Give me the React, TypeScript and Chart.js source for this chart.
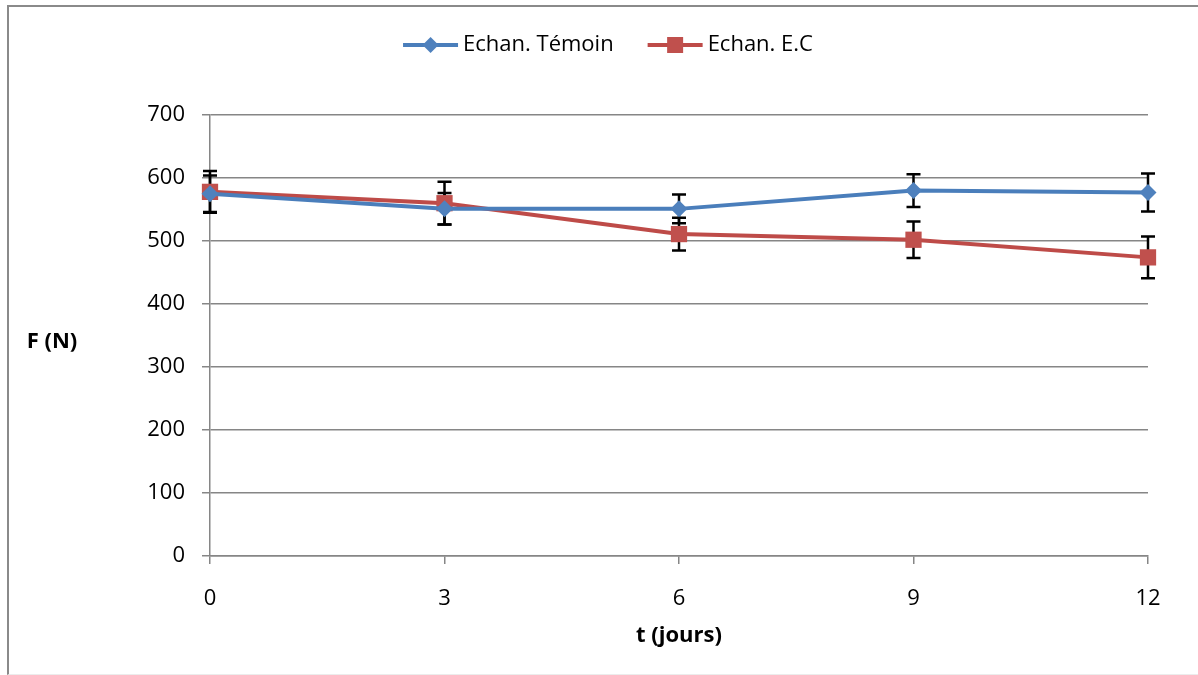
import React, { useEffect, useRef } from 'react';
import { Chart, registerables } from 'chart.js';

Chart.register(...registerables);

const days = [0, 3, 6, 9, 12];
const temoin = [575, 551, 551, 580, 577];
const temoinErr = [29, 25, 23, 26, 30];
const ec = [578, 560, 511, 502, 474];
const ecErr = [33, 34, 26, 29, 33];
const seriesLabels = ['Echan. Témoin', 'Echan. E.C'];
const xTitle = 't (jours)';
const yTitle = 'F (N)';

const FONT = "'Open Sans', 'Noto Sans', sans-serif";
const BLUE_LINE = '#4A7EBB';
const BLUE_MARK = '#4F81BD';
const RED_LINE = '#BE4B48';
const RED_MARK = '#C0504D';
const GRID = '#868686';

const errors = [temoinErr, ecErr];

const errorBarPlugin = {
  id: 'errorBars',
  beforeDatasetsDraw(chart: any) {
    const { ctx, scales } = chart;
    ctx.save();
    ctx.strokeStyle = '#000';
    ctx.lineWidth = 2.5;
    chart.data.datasets.forEach((ds: any, i: number) => {
      const meta = chart.getDatasetMeta(i);
      meta.data.forEach((pt: any, j: number) => {
        const v = ds.data[j].y;
        const e = errors[i][j];
        const x = pt.x;
        const yTop = scales.y.getPixelForValue(v + e);
        const yBot = scales.y.getPixelForValue(v - e);
        ctx.beginPath();
        ctx.moveTo(x, yTop);
        ctx.lineTo(x, yBot);
        ctx.moveTo(x - 7, yTop);
        ctx.lineTo(x + 7, yTop);
        ctx.moveTo(x - 7, yBot);
        ctx.lineTo(x + 7, yBot);
        ctx.stroke();
      });
    });
    ctx.restore();
  },
};

const extrasPlugin = {
  id: 'extras',
  afterDraw(chart: any) {
    const { ctx } = chart;
    ctx.save();
    // Y title (horizontal)
    ctx.font = `bold 22px ${FONT}`;
    ctx.fillStyle = '#000';
    ctx.textAlign = 'center';
    ctx.textBaseline = 'middle';
    ctx.fillText(yTitle, 52, 342);

    // Legend
    ctx.font = `22px ${FONT}`;
    const lineLen = 55;
    const gapText = 5;
    const gapItems = 34;
    const widths = seriesLabels.map((t) => ctx.measureText(t).width);
    const total = widths.reduce((a, w) => a + lineLen + gapText + w, 0) + gapItems;
    let x = 608 - total / 2;
    const y = 45;
    const colors = [BLUE_LINE, RED_LINE];
    const marks = [BLUE_MARK, RED_MARK];
    seriesLabels.forEach((t, i) => {
      ctx.strokeStyle = colors[i];
      ctx.lineWidth = 4;
      ctx.beginPath();
      ctx.moveTo(x, y);
      ctx.lineTo(x + lineLen, y);
      ctx.stroke();
      const cx = x + lineLen / 2;
      ctx.fillStyle = marks[i];
      ctx.beginPath();
      if (i === 0) {
        ctx.moveTo(cx, y - 8);
        ctx.lineTo(cx + 8, y);
        ctx.lineTo(cx, y + 8);
        ctx.lineTo(cx - 8, y);
        ctx.closePath();
      } else {
        ctx.rect(cx - 8, y - 8, 16, 16);
      }
      ctx.fill();
      ctx.fillStyle = '#000';
      ctx.textAlign = 'left';
      ctx.fillText(t, x + lineLen + gapText, y);
      x += lineLen + gapText + widths[i] + gapItems;
    });
    ctx.restore();
  },
};

export default function App() {
  const ref = useRef<HTMLCanvasElement | null>(null);

  useEffect(() => {
    if (!ref.current) return;
    const chart = new Chart(ref.current, {
      type: 'line',
      data: {
        datasets: [
          {
            label: seriesLabels[0],
            data: days.map((d, i) => ({ x: d, y: temoin[i] })),
            borderColor: BLUE_LINE,
            backgroundColor: BLUE_MARK,
            borderWidth: 4,
            pointStyle: 'rectRot',
            pointRadius: 8.5,
            pointBorderWidth: 0,
            pointBackgroundColor: BLUE_MARK,
            tension: 0,
            clip: false,
          },
          {
            label: seriesLabels[1],
            data: days.map((d, i) => ({ x: d, y: ec[i] })),
            borderColor: RED_LINE,
            backgroundColor: RED_MARK,
            borderWidth: 4,
            pointStyle: 'rect',
            pointRadius: 11.5,
            pointBorderWidth: 0,
            pointBackgroundColor: RED_MARK,
            tension: 0,
            clip: false,
          },
        ],
      },
      options: {
        responsive: false,
        animation: false,
        layout: { padding: { top: 115, right: 50, left: 0, bottom: 0 } },
        plugins: {
          legend: { display: false },
          tooltip: { enabled: false },
        },
        scales: {
          x: {
            type: 'linear',
            min: 0,
            max: 12,
            afterFit: (s: any) => {
              s.height = 119;
            },
            ticks: {
              stepSize: 3,
              color: '#000',
              padding: 22,
              font: { family: FONT, size: 22 },
            },
            grid: {
              drawOnChartArea: false,
              drawTicks: true,
              tickLength: 8,
              color: GRID,
              lineWidth: 1.5,
            },
            border: { display: true, color: GRID, width: 1.5 },
            title: {
              display: true,
              text: xTitle,
              color: '#000',
              font: { family: FONT, size: 22, weight: 'bold' },
              padding: { top: 0, bottom: 26 },
            },
          },
          y: {
            min: 0,
            max: 700,
            afterFit: (s: any) => {
              s.width = 210;
            },
            ticks: {
              stepSize: 100,
              color: '#000',
              padding: 17,
              font: { family: FONT, size: 22 },
            },
            grid: {
              drawTicks: true,
              tickLength: 8,
              color: GRID,
              lineWidth: 1.5,
            },
            border: { display: true, color: GRID, width: 1.5 },
          },
        },
      },
      plugins: [errorBarPlugin, extrasPlugin],
    } as any);
    return () => chart.destroy();
  }, []);

  return (
    <div
      style={{
        position: 'fixed',
        left: 0,
        top: 0,
        width: 1198,
        height: 675,
        background: '#fff',
        overflow: 'hidden',
      }}
    >
      <canvas ref={ref} width={1198} height={675} style={{ display: 'block', width: 1198, height: 675 }} />
      <div
        style={{
          position: 'absolute',
          left: 7,
          top: 5,
          width: 1300,
          height: 667,
          borderTop: '2px solid #8a8a8a',
          borderLeft: '2px solid #8a8a8a',
          borderBottom: '1px solid #ececec',
          pointerEvents: 'none',
        }}
      />
    </div>
  );
}
